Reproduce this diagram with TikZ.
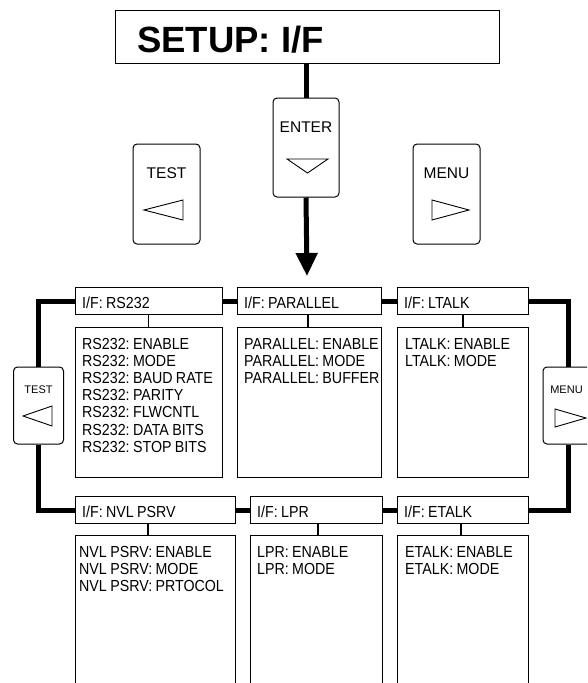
\documentclass[tikz,border=0pt]{standalone}
\usepackage{fontspec}
\setmainfont{Liberation Sans}
\newfontfamily\narrowfont[FakeStretch=0.89,WordSpace=0.85]{Liberation Sans}
\usetikzlibrary{arrows.meta,calc}
\frenchspacing
\begin{document}
\begin{tikzpicture}[x=1pt,y=-1pt,
  box/.style={draw, line width=1.3pt, fill=white, inner sep=0pt, anchor=north west},
  btn/.style={draw, line width=1pt, rounded corners=4pt, fill=white, inner sep=0pt},
  tri/.style={draw, line width=0.9pt, line join=miter},
  thicklink/.style={line width=5pt},
  thinlink/.style={line width=1.1pt},
  txt/.style={inner sep=0pt, anchor=base west, font=\narrowfont\frenchspacing\fontsize{16}{17.2}\selectfont},
  btntxt/.style={inner sep=0pt, anchor=base, font=\fontsize{15.5}{16}\selectfont},
  sidetxt/.style={inner sep=0pt, anchor=base, font=\fontsize{11}{12}\selectfont}
]
\useasboundingbox (0,0) rectangle (587,683);
\clip (0,0) rectangle (587,683);
\fill[white] (0,0) rectangle (587,683);

% title
\node[box, minimum width=384pt, minimum height=53pt] (title) at (115,10) {};
\node[inner sep=0pt, anchor=base west, font=\bfseries\frenchspacing\fontsize{36.5}{38}\selectfont] (titletext) at (137,52) {SETUP: I/F};

% top buttons
\node[btn, minimum width=66pt, minimum height=99pt] (enter) at (306,147.5) {};
\node[btntxt] (entertxt) at (306,132) {ENTER};
\draw[tri] (287,159) -- (328,159) -- (307.5,173) -- cycle;

\node[btn, minimum width=67pt, minimum height=100pt] (test) at (166.5,194) {};
\node[btntxt] (testtxt) at (166.5,178) {TEST};
\draw[tri] (183,200) -- (183,220) -- (144,210) -- cycle;

\node[btn, minimum width=67pt, minimum height=100pt] (menu) at (446.5,194) {};
\node[btntxt] (menutxt) at (446.5,178) {MENU};
\draw[tri] (432,200) -- (432,220) -- (469,210) -- cycle;

% main arrow
\coordinate (tip) at (307,276);
\draw[thicklink] (title.south -| enter.north) -- (enter.north);
\draw[thicklink, -{Triangle[length=23pt,width=21pt]}] (enter.south) -- (tip);

% headers row 1
\node[box, minimum width=147pt, minimum height=27pt] (rs) at (75,287) {};
\node[box, minimum width=144pt, minimum height=27pt] (par) at (237,287) {};
\node[box, minimum width=131pt, minimum height=27pt] (lt) at (397,287) {};
% headers row 2
\node[box, minimum width=160pt, minimum height=27pt] (nvl) at (75,496) {};
\node[box, minimum width=132pt, minimum height=27pt] (lpr) at (250,496) {};
\node[box, minimum width=131pt, minimum height=27pt] (et) at (397,496) {};

\node[txt] (rst) at ($(rs.north west)+(7,21.5)$) {I/F: RS232};
\node[txt] (part) at ($(par.north west)+(7,21.5)$) {I/F: PARALLEL};
\node[txt] (ltt) at ($(lt.north west)+(7,21.5)$) {I/F: LTALK};
\node[txt] (nvlt) at ($(nvl.north west)+(7,21)$) {I/F: NVL PSRV};
\node[txt] (lprt) at ($(lpr.north west)+(7,21)$) {I/F: LPR};
\node[txt] (ett) at ($(et.north west)+(7,21)$) {I/F: ETALK};

% bodies
\node[box, minimum width=147pt, minimum height=150pt] (rsb) at (75,327) {};
\node[box, minimum width=144pt, minimum height=150pt] (parb) at (237,327) {};
\node[box, minimum width=131pt, minimum height=150pt] (ltb) at (397,327) {};
\node[box, minimum width=160pt, minimum height=170pt] (nvlb) at (75,535) {};
\node[box, minimum width=132pt, minimum height=170pt] (lprb) at (250,535) {};
\node[box, minimum width=131pt, minimum height=170pt] (etb) at (397,535) {};

% thin connectors
\coordinate (rsx) at (148.5,0);
\coordinate (parx) at (308,0);
\coordinate (ltx) at (463,0);
\coordinate (nvlx) at (148,0);
\coordinate (lprx) at (318,0);
\coordinate (etx) at (461,0);
\draw[thinlink] (rs.south -| rsx) -- (rsb.north -| rsx);
\draw[thinlink] (par.south -| parx) -- (parb.north -| parx);
\draw[thinlink] (lt.south -| ltx) -- (ltb.north -| ltx);
\draw[thinlink] (nvl.south -| nvlx) -- (nvlb.north -| nvlx);
\draw[thinlink] (lpr.south -| lprx) -- (lprb.north -| lprx);
\draw[thinlink] (et.south -| etx) -- (etb.north -| etx);

% body texts
\foreach \t [count=\i] in {RS232: ENABLE,RS232: MODE,RS232: BAUD RATE,RS232: PARITY,RS232: FLWCNTL,RS232: DATA BITS,RS232: STOP BITS}
  \node[txt] (rsl\i) at ($(rsb.north west)+(7,{22+(\i-1)*17.2})$) {\t};
\foreach \t [count=\i] in {PARALLEL: ENABLE,PARALLEL: MODE,PARALLEL: BUFFER}
  \node[txt] (parl\i) at ($(parb.north west)+(7,{22+(\i-1)*17.2})$) {\t};
\foreach \t [count=\i] in {LTALK: ENABLE,LTALK: MODE}
  \node[txt] (ltl\i) at ($(ltb.north west)+(8,{22+(\i-1)*17.2})$) {\t};
\foreach \t [count=\i] in {NVL PSRV: ENABLE,NVL PSRV: MODE,NVL PSRV: PRTOCOL}
  \node[txt] (nvll\i) at ($(nvlb.north west)+(4,{22+(\i-1)*17.2})$) {\t};
\foreach \t [count=\i] in {LPR: ENABLE,LPR: MODE}
  \node[txt] (lprl\i) at ($(lprb.north west)+(7,{22+(\i-1)*17.2})$) {\t};
\foreach \t [count=\i] in {ETALK: ENABLE,ETALK: MODE}
  \node[txt] (etl\i) at ($(etb.north west)+(8,{22+(\i-1)*17.2})$) {\t};

% side buttons
\node[btn, minimum width=50pt, minimum height=77pt] (tests) at (38.5,405.5) {};
\node[btn, minimum width=50pt, minimum height=77pt] (menus) at (568,405.5) {};

% thick links
\draw[thicklink] (rs.east) -- (par.west);
\draw[thicklink] (par.east) -- (lt.west);
\draw[thicklink] (nvl.east) -- (lpr.west);
\draw[thicklink] (lpr.east) -- (et.west);
\draw[thicklink] (rs.west) -| (tests.north);
\draw[thicklink] (tests.south) |- (nvl.west);
\draw[thicklink] (lt.east) -| (menus.north);
\draw[thicklink] (menus.south) |- (et.east);

\node[sidetxt] (teststxt) at (38.5,393) {TEST};
\draw[tri] (52,406) -- (52,426) -- (23,416) -- cycle;
\node[sidetxt] (menustxt) at (566.5,393) {MENU};
\draw[tri] (555,409) -- (555,427) -- (586,418) -- cycle;
\end{tikzpicture}
\end{document}
